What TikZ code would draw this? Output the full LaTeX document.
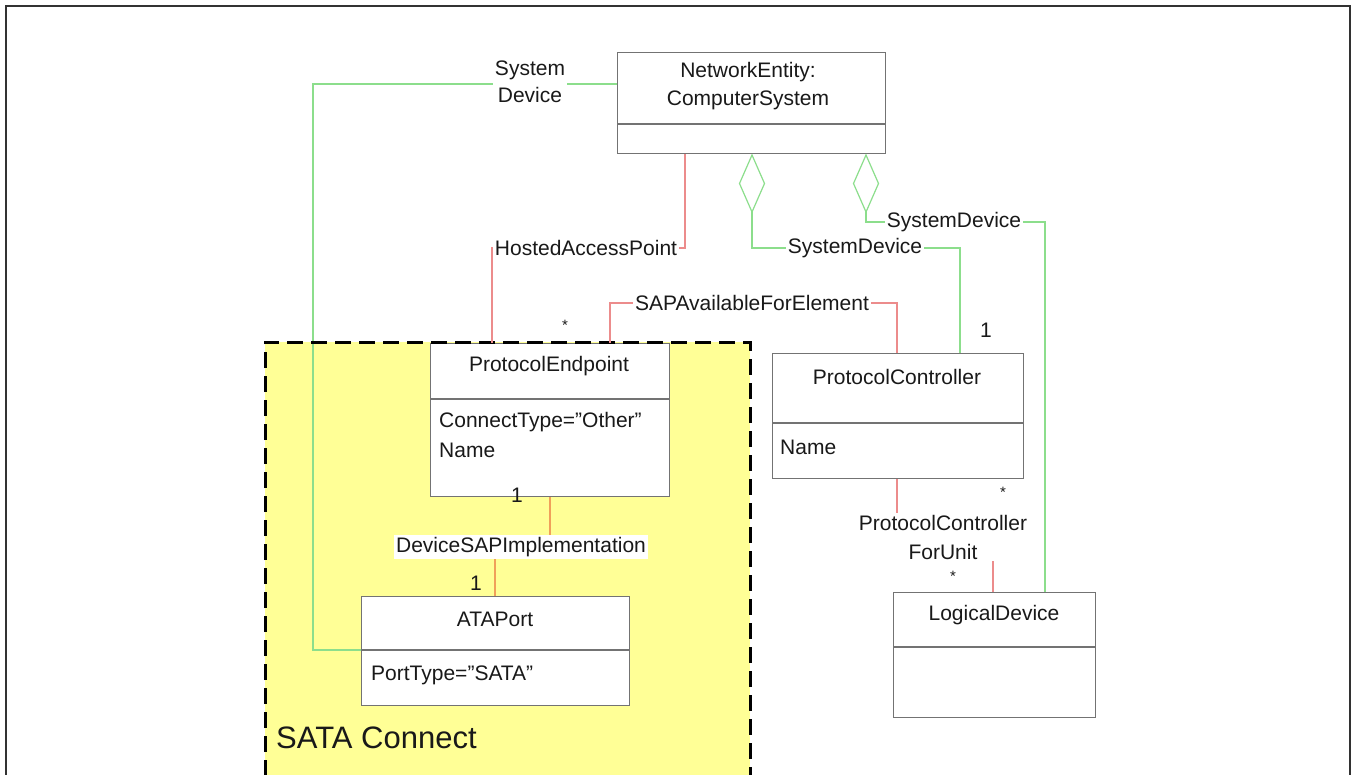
\documentclass[tikz,border=0pt]{standalone}
\usepackage{fontspec}
\setmainfont{Liberation Sans}
\definecolor{redline}{RGB}{236,140,140}
\definecolor{greenline}{RGB}{140,222,140}
\definecolor{orangeline}{RGB}{240,160,90}
\definecolor{sataYellow}{RGB}{255,255,150}
\definecolor{boxgray}{RGB}{115,115,115}
\definecolor{txt}{RGB}{25,25,25}
\definecolor{framegray}{RGB}{50,50,50}
\begin{document}
\begin{tikzpicture}[x=1pt,y=-1pt,
  font=\fontsize{21}{25}\selectfont,
  every node/.style={text=txt},
  umlbox/.style={draw=boxgray, line width=1.4pt, fill=white, rectangle, inner sep=0pt, anchor=north west},
  divline/.style={draw=boxgray, line width=1.4pt},
  rconn/.style={draw=redline, line width=1.2pt},
  gconn/.style={draw=greenline, line width=1.2pt},
  oconn/.style={draw=orangeline, line width=1.2pt},
  lbl/.style={fill=white, inner sep=2pt},
  attr/.style={anchor=west, inner sep=0pt},
  mult/.style={inner sep=0pt},
  star/.style={inner sep=0pt, font=\fontsize{15}{18}\selectfont}
]
\useasboundingbox (0,0) rectangle (1352,774);
\clip (0,0) rectangle (1352,774);
\fill[white] (0,0) rectangle (1352,774);

% outer frame
\draw[framegray, line width=2.5pt] (6,780) -- (6,6) -- (1350,6) -- (1350,780);

% SATA Connect region fill
\fill[sataYellow] (265,342) rectangle (750,800);

% boxes
\node[umlbox, minimum width=268pt, minimum height=101pt] (cs) at (617,52) {};
\draw[divline] (617,124) -- (885,124);
\node (cs-t1) at (748,72) {NetworkEntity:};
\node (cs-t2) at (748,100) {ComputerSystem};

\node[umlbox, minimum width=239pt, minimum height=153pt] (pe) at (430,343) {};
\draw[divline] (430,399) -- (669,399);
\node (pe-t) at (549,366) {ProtocolEndpoint};
\node[attr] (pe-a1) at (439,422) {ConnectType=”Other”};
\node[attr] (pe-a2) at (439,450) {Name};

\node[umlbox, minimum width=251pt, minimum height=125pt] (pc) at (772,353) {};
\draw[divline] (772,423) -- (1023,423);
\node (pc-t) at (897,377) {ProtocolController};
\node[attr] (pc-a1) at (780,447) {Name};

\node[umlbox, minimum width=268pt, minimum height=109pt] (ata) at (361,596) {};
\draw[divline] (361,650) -- (629,650);
\node (ata-t) at (495,619) {ATAPort};
\node[attr] (ata-a1) at (371,675) {PortType=”SATA”};

\node[umlbox, minimum width=202pt, minimum height=125pt] (ld) at (893,592) {};
\draw[divline] (893,647) -- (1095,647);
\node (ld-t) at (994,615) {LogicalDevice};

% left SystemDevice (green)
\draw[gconn] (617,84) -- (313,84) -- (313,650) -- (361,650);
\node[lbl, align=center, font=\fontsize{21}{27}\selectfont] (sd0) at (530,82) {System\\Device};

% dashed border of SATA Connect
\draw[black, line width=3pt, dash pattern=on 16pt off 8pt] (265,800) -- (265,342) -- (750,342) -- (750,800);
\node[anchor=west, inner sep=0pt, font=\fontsize{31}{36}\selectfont] (sata) at (276,738) {SATA Connect};

% HostedAccessPoint (red)
\draw[rconn] (685,0 |- cs.south) -- (685,248) -- (492,248) -- (492,0 |- pe.north);
\node[lbl] (hap) at (586,248) {HostedAccessPoint};

% SAPAvailableForElement (red)
\draw[rconn] (610,0 |- pe.north) -- (610,303) -- (897,303) -- (897,0 |- pc.north);
\node[lbl] (sap) at (752,303) {SAPAvailableForElement};

% aggregation diamonds
\draw[gconn, fill=white] (752,155) -- (764.5,183.5) -- (752,212) -- (739.5,183.5) -- cycle;
\coordinate (d1) at (752,212);
\draw[gconn, fill=white] (866,155) -- (878.5,183.5) -- (866,212) -- (853.5,183.5) -- cycle;
\coordinate (d2) at (866,212);

% SystemDevice to ProtocolController (green)
\draw[gconn] (d1) -- (752,248) -- (960,248) -- (960,0 |- pc.north);
\node[lbl] (sd1) at (855,248) {SystemDevice};

% SystemDevice to LogicalDevice (green)
\draw[gconn] (d2) -- (866,222) -- (1045,222) -- (1045,0 |- ld.north);
\node[lbl] (sd2) at (954,222) {SystemDevice};

% DeviceSAPImplementation (orange)
\draw[oconn] (550,0 |- pe.south) -- (550,547) -- (495,547) -- (495,0 |- ata.north);
\node[lbl] (dsi) at (521,547) {DeviceSAPImplementation};

% ProtocolControllerForUnit (red)
\draw[rconn] (897,0 |- pc.south) -- (897,537) -- (993,537) -- (993,0 |- ld.north);
\node[lbl, align=center, font=\fontsize{21}{29}\selectfont] (pcfu) at (943,537) {ProtocolController\\ForUnit};

% multiplicities
\node[star] (m1) at (565,325) {*};
\node[mult] (m2) at (986,330) {1};
\node[mult] (m3) at (517,495) {1};
\node[mult] (m4) at (476,583) {1};
\node[star] (m5) at (1003,492) {*};
\node[star] (m6) at (953,576) {*};
\end{tikzpicture}
\end{document}
